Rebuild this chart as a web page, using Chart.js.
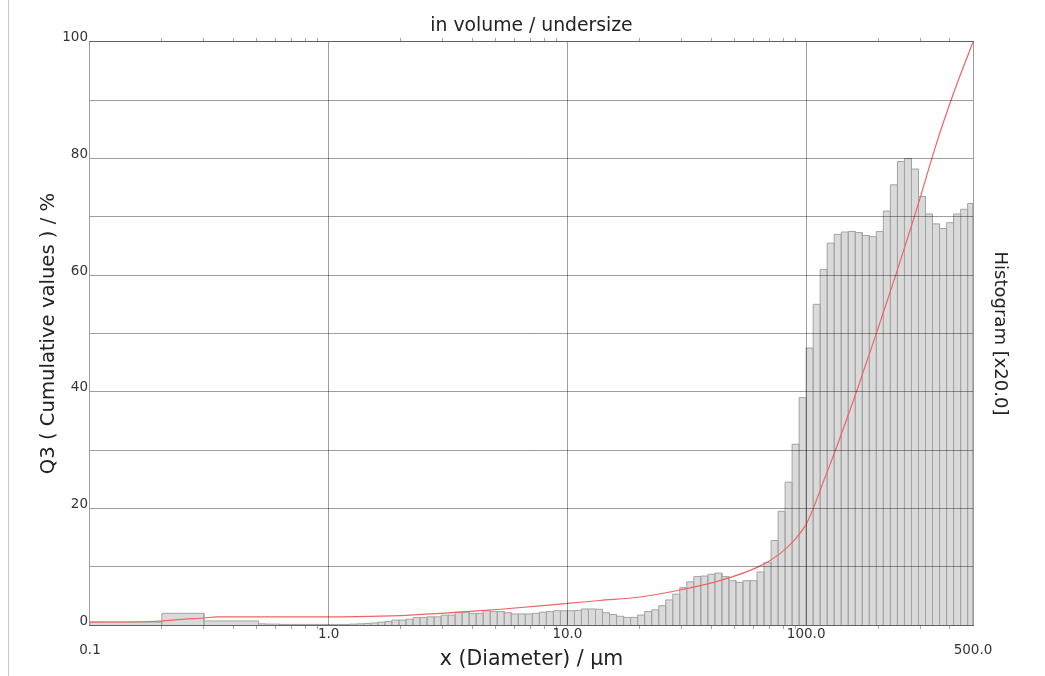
<!DOCTYPE html>
<html>
<head>
<meta charset="utf-8">
<script src="https://cdn.jsdelivr.net/npm/chart.js@4.4.0/dist/chart.umd.min.js"></script>
<style>
  html, body { margin: 0; padding: 0; background: #fff; }
  #wrap { position: relative; width: 1045px; height: 676px; }
  #frame { position: absolute; left: 8px; top: 0; bottom: 0; width: 1px; background: #c8c8c8; }
</style>
</head>
<body>
<div id="wrap">
  <canvas id="chart" width="1045" height="676"></canvas>
  <div id="frame"></div>
</div>
<script>
// histogram classes (µm) - lower edges plus the last upper edge
const binEdges = [0.1, 0.2, 0.3, 0.5081, 0.5437, 0.5818, 0.6226, 0.6662, 0.7129, 0.7629, 0.8163, 0.8735, 0.9348,
  1.0, 1.070, 1.145, 1.225, 1.311, 1.403, 1.501, 1.606, 1.719, 1.839, 1.968, 2.106, 2.254, 2.412, 2.581, 2.762,
  2.955, 3.162, 3.384, 3.621, 3.875, 4.147, 4.437, 4.748, 5.081, 5.437, 5.818, 6.226, 6.662, 7.129, 7.629, 8.163,
  8.735, 9.348, 10.0, 10.70, 11.45, 12.25, 13.11, 14.03, 15.01, 16.06, 17.19, 18.39, 19.68, 21.06, 22.54, 24.12,
  25.81, 27.62, 29.55, 31.62, 33.84, 36.21, 38.75, 41.47, 44.37, 47.48, 50.81, 54.37, 58.18, 62.26, 66.62, 71.29,
  76.29, 81.63, 87.35, 93.48, 100, 107.0, 114.5, 122.5, 131.1, 140.3, 150.1, 160.6, 171.9, 183.9, 196.8, 210.6,
  225.4, 241.2, 258.1, 276.2, 295.5, 316.2, 338.4, 362.1, 387.5, 414.7, 443.7, 474.8, 500];

// histogram heights (already x20, read on the Q3 axis)
const histHeights = [0.5, 2.0, 0.7,
  0.2, 0.15, 0.15, 0.1, 0.1, 0.1, 0.1, 0.1, 0.1, 0.1, 0.1, 0.1, 0.1, 0.15, 0.2, 0.25,
  0.35, 0.5, 0.6, 0.85, 0.85, 1.0, 1.25, 1.3, 1.4, 1.4,
  1.7, 1.7, 2.2, 2.2, 2.0, 2.0, 2.45, 2.3, 2.3, 2.1,
  1.9, 1.9, 1.9, 2.0, 2.2, 2.3, 2.45, 2.45,
  2.45, 2.5, 2.75, 2.75, 2.7, 2.1, 1.8, 1.5, 1.3, 1.3,
  1.7, 2.3, 2.6, 3.3, 4.3, 5.3, 6.4, 7.4, 8.3, 8.4,
  8.7, 8.9, 8.3, 7.6, 7.3, 7.6, 7.6, 9.1, 10.7, 14.5,
  19.5, 24.5, 31, 39,
  47.5, 55, 61, 65.5, 67, 67.4, 67.5, 67.3, 66.8, 66.6,
  67.5, 71, 75.5, 79.5, 80, 78.2, 73.5, 70.5, 68.8, 68,
  69, 70.5, 71.3, 72.3];

// cumulative Q3 curve
const cumDiameters = [0.1, 0.18, 0.25, 0.3, 0.34, 1.13, 2.0, 2.95, 4.33, 5.25, 10, 13.7, 20.2, 29.6, 43.5, 64,
  77.5, 89.5, 100, 106.4, 119.4, 134.1, 162.5, 199, 239, 289, 354, 417, 500];
const cumValues = [0.5, 0.6, 1.0, 1.2, 1.4, 1.4, 1.6, 2.0, 2.45, 2.7, 3.7, 4.2, 4.8, 6.0, 7.6, 10.1,
  12.2, 14.6, 17.3, 19.7, 25.1, 30.5, 40, 50.6, 60.4, 71.0, 83.0, 91.5, 100];

// axis ticks
const xMinorTicks = [0.2, 0.3, 0.4, 0.5, 0.6, 0.7, 0.8, 0.9, 2, 3, 4, 5, 6, 7, 8, 9,
  20, 30, 40, 50, 60, 70, 80, 90, 200, 300, 400];
const xMajorTicks = [1, 10, 100];
const xMajorLabels = ['1.0', '10.0', '100.0'];
const xEndTicks = [0.1, 500];
const xEndLabels = ['0.1', '500.0'];

const GRID = 'rgba(0,0,0,0.38)';
const TICKC = 'rgba(0,0,0,0.35)';
const NONE = 'rgba(0,0,0,0)';

Chart.defaults.font.family = 'DejaVu Sans';

// bar outlines traced as one path so every class keeps its own edges
const histPoints = [];
histHeights.forEach((h, i) => {
  const a = binEdges[i], b = binEdges[i + 1];
  histPoints.push({x: a, y: 0}, {x: a, y: h}, {x: b, y: h}, {x: b, y: 0});
});

const cumPoints = cumDiameters.map((d, i) => ({x: d, y: cumValues[i]}));

const tickFont = {size: 13.5};

new Chart(document.getElementById('chart'), {
  type: 'line',
  data: {
    datasets: [
      {
        label: 'Q3',
        data: cumPoints,
        borderColor: '#f06464',
        borderWidth: 1.2,
        pointRadius: 0,
        cubicInterpolationMode: 'monotone',
        fill: false
      },
      {
        label: 'Histogram',
        data: histPoints,
        borderColor: '#a4a4a4',
        borderWidth: 1,
        backgroundColor: '#dadada',
        pointRadius: 0,
        tension: 0,
        fill: 'origin'
      }
    ]
  },
  options: {
    responsive: false,
    animation: false,
    layout: {padding: {left: 30.7, right: 30.4, top: 0, bottom: 0}},
    plugins: {
      legend: {display: false},
      tooltip: {enabled: false},
      title: {
        display: true,
        fullSize: false,
        text: 'in volume / undersize',
        color: '#222',
        font: {size: 18.8, weight: 'normal'},
        padding: {top: 14.7, bottom: 0.7}
      }
    },
    scales: {
      x: {
        type: 'logarithmic',
        position: 'bottom',
        weight: 0,
        min: 0.1,
        max: 500,
        afterBuildTicks: axis => {
          axis.ticks = xMinorTicks.concat(xMajorTicks).sort((a, b) => a - b).map(v => ({value: v}));
        },
        ticks: {
          autoSkip: false,
          maxRotation: 0,
          padding: -3,
          color: '#333',
          font: tickFont,
          callback: v => {
            const i = xMajorTicks.indexOf(v);
            return i >= 0 ? xMajorLabels[i] : '';
          }
        },
        grid: {
          z: 1,
          drawTicks: true,
          tickLength: 4,
          color: c => (c.tick && xMajorTicks.includes(c.tick.value)) ? GRID : NONE,
          tickColor: c => (c.tick && xMinorTicks.includes(c.tick.value)) ? TICKC : NONE
        },
        border: {display: true, color: GRID, z: 1}
      },
      x2: {
        type: 'logarithmic',
        position: 'bottom',
        weight: 1,
        min: 0.1,
        max: 500,
        afterBuildTicks: axis => {
          axis.ticks = xEndTicks.map(v => ({value: v}));
        },
        ticks: {
          autoSkip: false,
          maxRotation: 0,
          padding: 2.7,
          color: '#333',
          font: tickFont,
          callback: v => {
            const i = xEndTicks.indexOf(v);
            return i >= 0 ? xEndLabels[i] : '';
          }
        },
        grid: {display: false, drawTicks: false},
        border: {display: false},
        title: {
          display: true,
          text: 'x (Diameter) / µm',
          color: '#222',
          font: {size: 20.5},
          padding: {top: -13.1, bottom: 3.7}
        }
      },
      xTop: {
        type: 'logarithmic',
        position: 'top',
        weight: 0,
        min: 0.1,
        max: 500,
        afterBuildTicks: axis => {
          axis.ticks = xMinorTicks.map(v => ({value: v}));
        },
        ticks: {display: false},
        grid: {drawOnChartArea: false, drawTicks: true, tickLength: 4, color: TICKC},
        border: {display: true, color: GRID, z: 1}
      },
      y: {
        type: 'linear',
        position: 'left',
        min: 0,
        max: 100,
        ticks: {
          stepSize: 10,
          padding: 2,
          labelOffset: -4,
          color: '#333',
          font: tickFont,
          callback: v => (v % 20 === 0 ? String(v) : '')
        },
        grid: {z: 1, color: GRID, drawTicks: false},
        border: {display: true, color: GRID, z: 1},
        title: {
          display: true,
          text: 'Q3 ( Cumulative values ) / %',
          color: '#222',
          font: {size: 19.6},
          padding: {top: 6, bottom: 0}
        }
      },
      y2: {
        type: 'linear',
        position: 'right',
        min: 0,
        max: 100,
        ticks: {display: false},
        grid: {display: false, drawTicks: false},
        border: {display: true, color: GRID, z: 1},
        title: {
          display: true,
          text: 'Histogram [x20.0]',
          color: '#222',
          font: {size: 18},
          padding: {top: 4, bottom: 16}
        }
      }
    }
  }
});
</script>
</body>
</html>
